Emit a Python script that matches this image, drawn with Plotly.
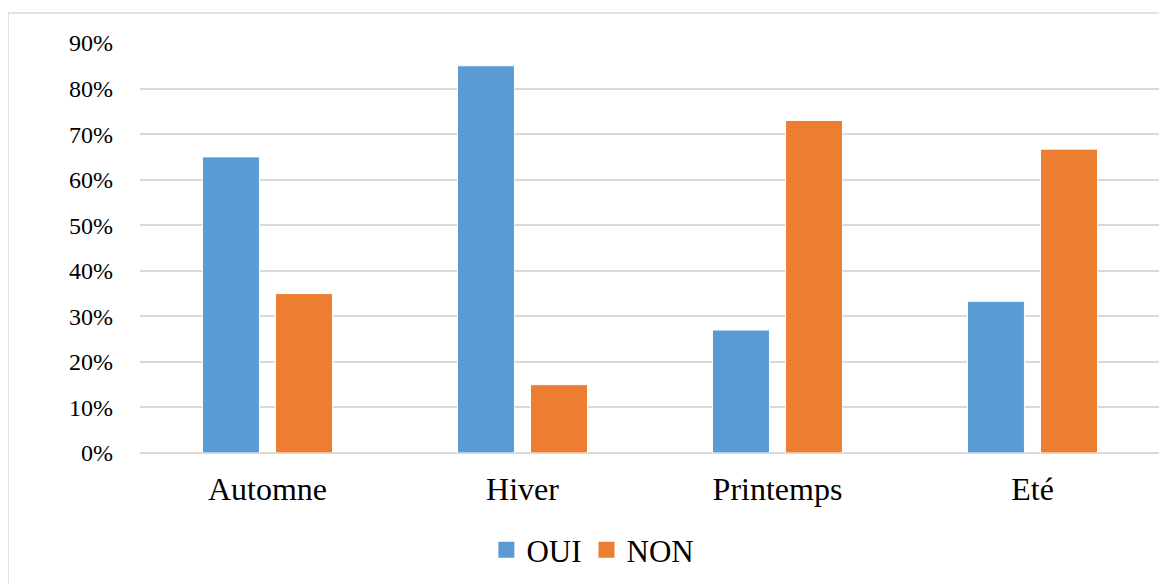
import plotly.graph_objects as go

categories = ["Automne", "Hiver", "Printemps", "Eté"]
oui = [0.65, 0.85, 0.27, 0.333]
non = [0.35, 0.15, 0.73, 0.667]
tick_vals = [0, 0.1, 0.2, 0.3, 0.4, 0.5, 0.6, 0.7, 0.8, 0.9]
tick_text = ["0%", "10%", "20%", "30%", "40%", "50%", "60%", "70%", "80%", "90%"]

FONT = "Liberation Serif, Times New Roman, serif"
BLUE = "#5B9BD5"
ORANGE = "#ED7D31"

fig = go.Figure()
fig.add_trace(go.Bar(name="OUI", x=categories, y=oui, showlegend=False,
                     marker=dict(color=BLUE, line=dict(color="white", width=1))))
fig.add_trace(go.Bar(name="NON", x=categories, y=non, showlegend=False,
                     marker=dict(color=ORANGE, line=dict(color="white", width=1))))
# legend entries with square swatches
fig.add_trace(go.Scatter(name="OUI", x=[None], y=[None], mode="markers",
                         marker=dict(symbol="square", size=16, color=BLUE)))
fig.add_trace(go.Scatter(name="NON", x=[None], y=[None], mode="markers",
                         marker=dict(symbol="square", size=16, color=ORANGE)))

fig.update_layout(
    width=1159, height=576,
    margin=dict(l=132, r=7, t=35, b=131),
    paper_bgcolor="white", plot_bgcolor="white",
    barmode="group", bargap=0.427, bargroupgap=0.22,
    font=dict(family=FONT, color="black"),
    showlegend=True,
    legend=dict(orientation="h", x=0.444, xanchor="center", y=-0.237, yanchor="middle",
                font=dict(size=31, family=FONT), itemwidth=30, traceorder="normal"),
    xaxis=dict(showgrid=False, showline=False, zeroline=False, ticks="",
               tickfont=dict(size=32, family=FONT), ticklabelstandoff=14),
    yaxis=dict(range=[0, 0.9], tickvals=tick_vals, ticktext=tick_text,
               showgrid=True, gridcolor="#d9d9d9", gridwidth=1.5,
               zeroline=True, zerolinecolor="#d9d9d9", zerolinewidth=1.5,
               showline=False, ticks="", tickfont=dict(size=24, family=FONT),
               ticklabelstandoff=26),
    shapes=[dict(type="rect", xref="paper", yref="paper",
                 x0=-0.1294, x1=1.2, y0=-0.6, y1=1.0732,
                 line=dict(color="#d9d9d9", width=1.5), fillcolor="rgba(0,0,0,0)",
                 layer="below")],
)

fig.write_html("out.html")
